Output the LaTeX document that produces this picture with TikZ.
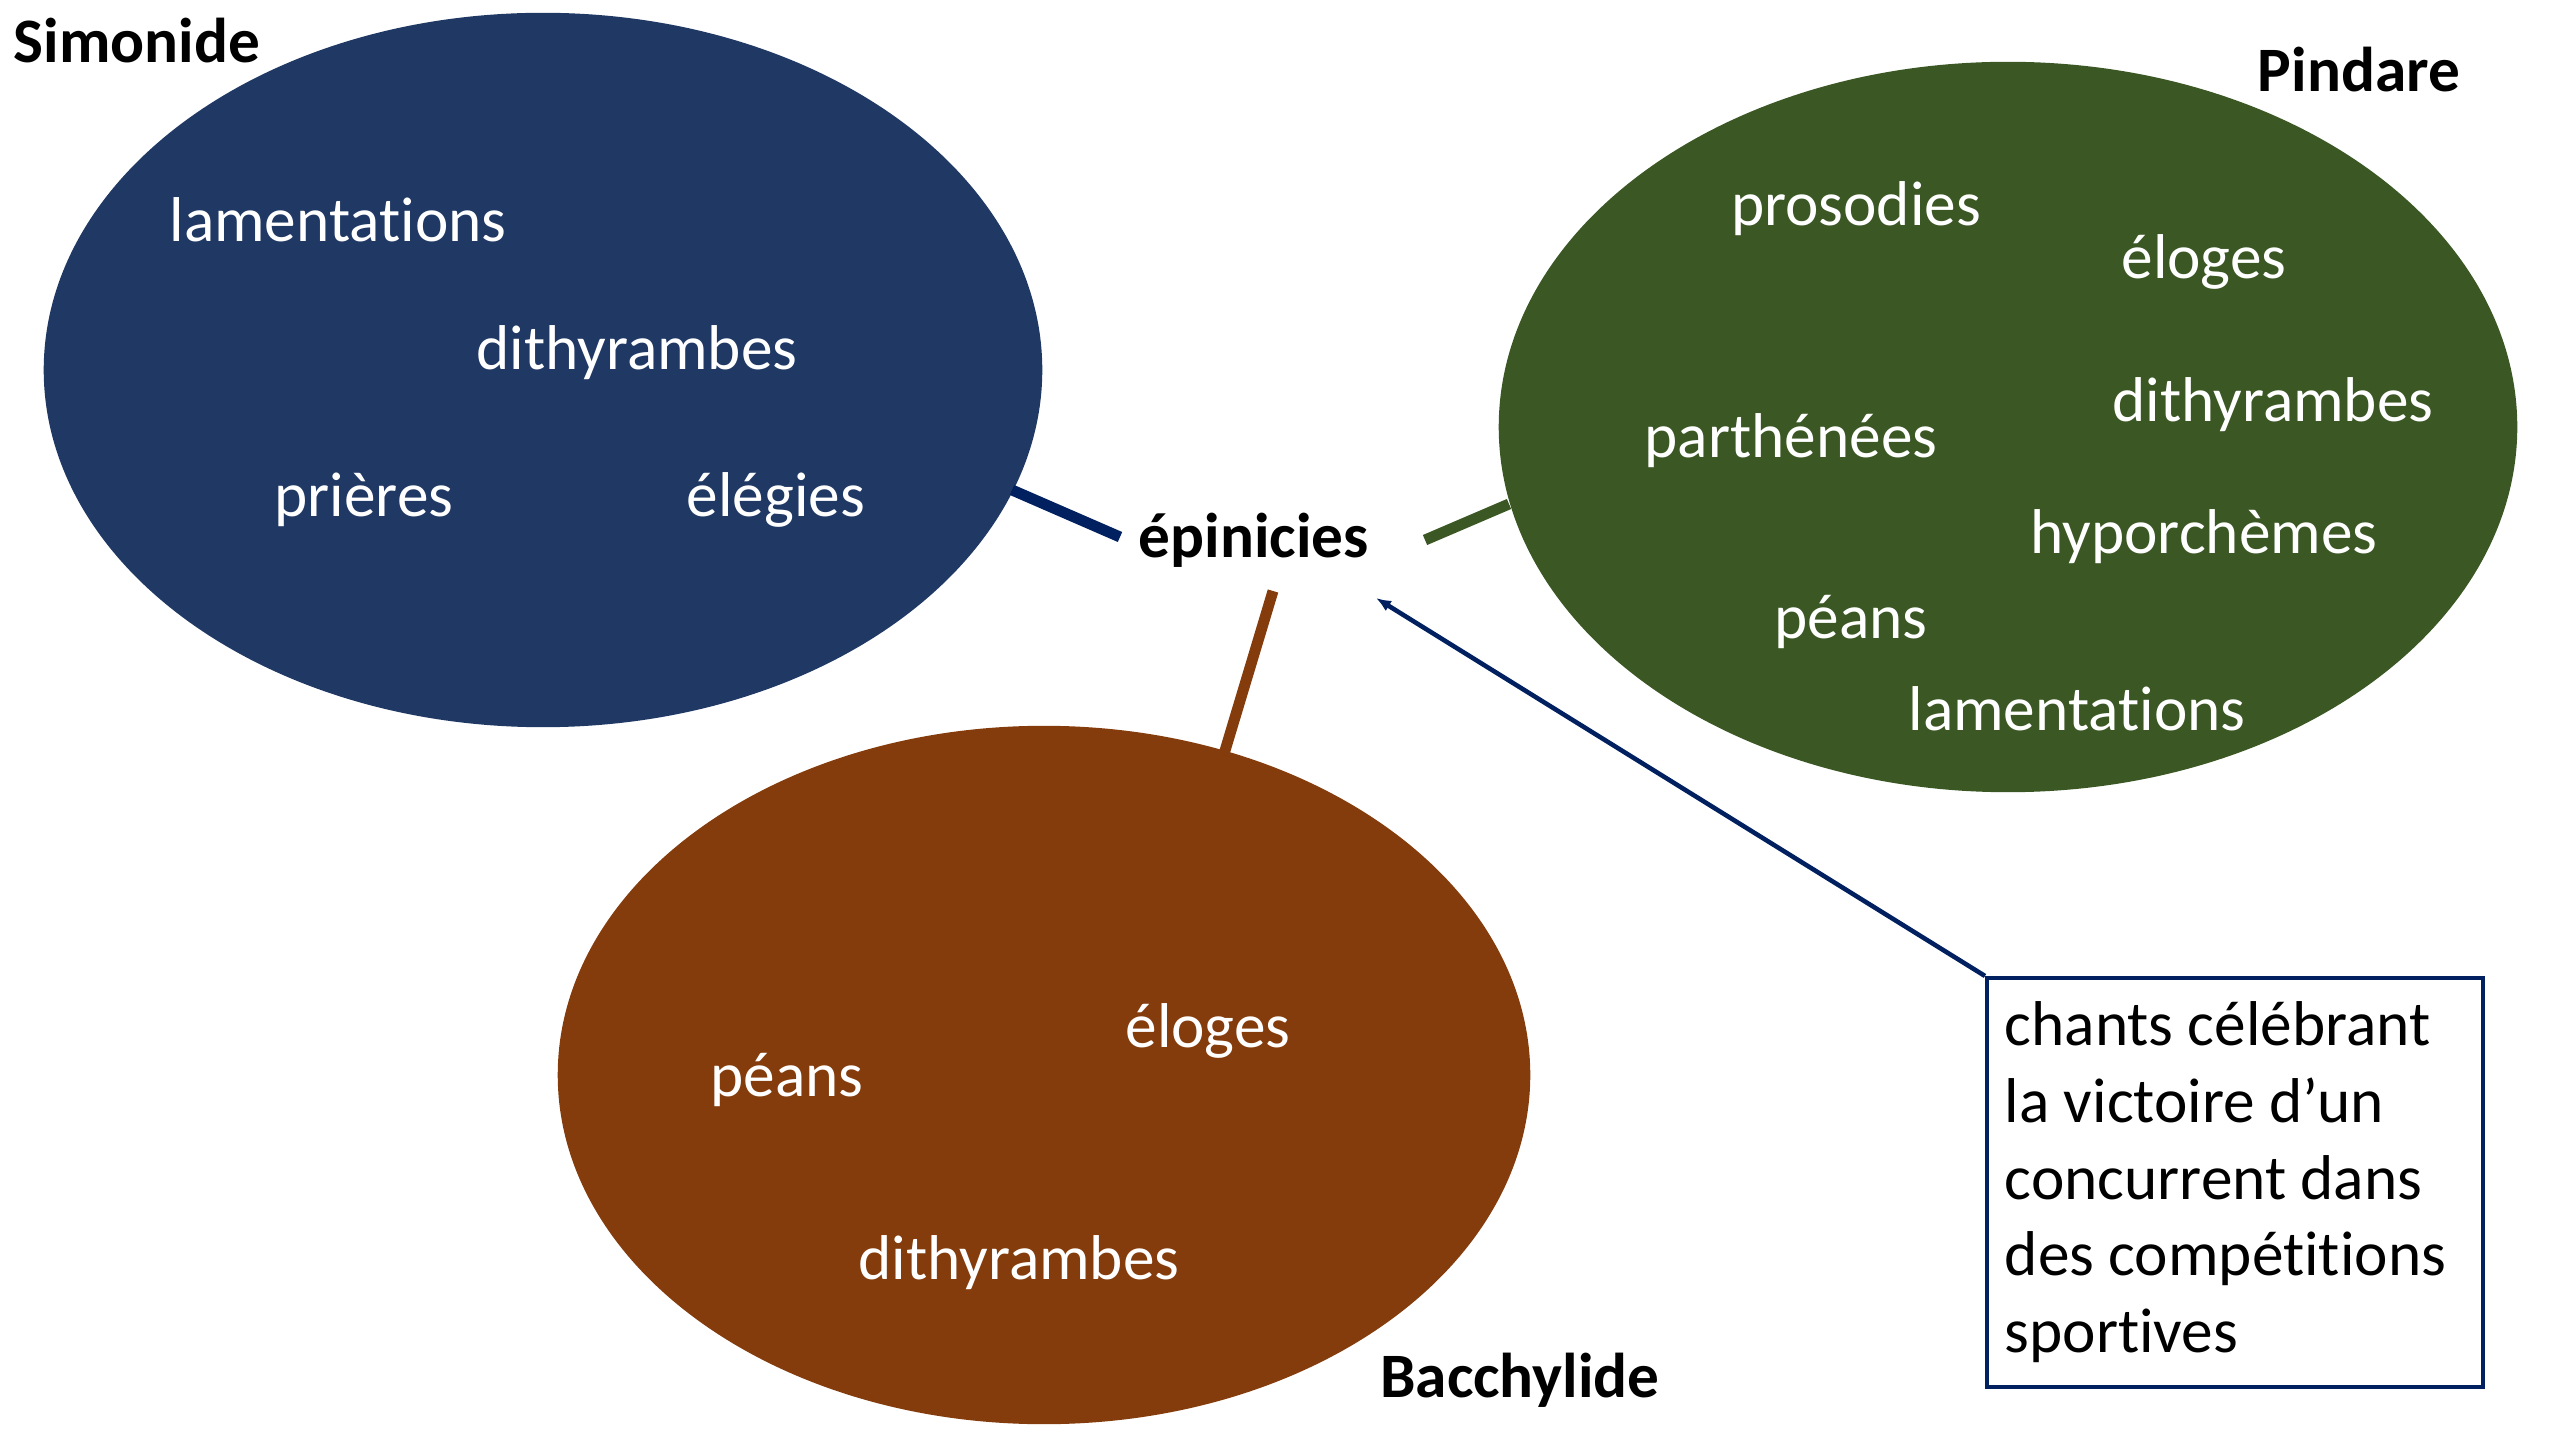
\documentclass[tikz,border=0pt]{standalone}
\usepackage{fontspec}
\setmainfont{Carlito}[Ligatures=CommonOff]
\usetikzlibrary{shapes.geometric,arrows.meta}
\definecolor{blueE}{HTML}{203864}
\definecolor{navy}{HTML}{002060}
\definecolor{greenE}{HTML}{3A5724}
\definecolor{brownE}{HTML}{843C0C}
\tikzset{
  blob/.style={ellipse,inner sep=0pt,draw=none},
  item/.style={text=white,font=\fontsize{18pt}{21.8pt}\selectfont,inner sep=0pt},
  poet/.style={text=black,font=\fontsize{18pt}{21.8pt}\selectfont\bfseries,inner sep=0pt},
  link/.style={line width=3.1pt},
  note/.style={draw=navy,line width=1pt,fill=white,align=flush left,text width=4.6cm,
    inner xsep=0.18cm,minimum width=4.95cm,minimum height=4.09cm,anchor=north west,
    font=\fontsize{18pt}{21.8pt}\selectfont}
}
\begin{document}
\begin{tikzpicture}[x=0.01cm,y=-0.01cm]
\useasboundingbox (0,0) rectangle (2560,1440);
% ellipses
\node[blob,fill=blueE,minimum width=9.98cm,minimum height=7.14cm] (simo) at (543,370) {};
\node[blob,fill=greenE,minimum width=10.18cm,minimum height=7.30cm] (pind) at (2008,427) {};
\node[blob,fill=brownE,minimum width=9.72cm,minimum height=6.98cm] (bacc) at (1044,1075) {};
% poets
\node[poet] (lsimo) at (137,41) {Simonide};
\node[poet] (lpind) at (2359,70) {Pindare};
\node[poet] (lbacc) at (1520,1380) {Bacchylide};
\node[poet] (epi) at (1254,540) {épinicies};
% Simonide items
\node[item] (s1) at (338,220) {lamentations};
\node[item] (s2) at (637,353) {dithyrambes};
\node[item] (s3) at (364,500) {prières};
\node[item] (s4) at (776,500) {élégies};
% Pindare items
\node[item] (p1) at (1856,209) {prosodies};
\node[item] (p2) at (2204,262) {éloges};
\node[item] (p3) at (1791,441) {parthénées};
\node[item] (p4) at (2273,405) {dithyrambes};
\node[item] (p5) at (2204,537) {hyporchèmes};
\node[item] (p6) at (1851,622) {péans};
\node[item] (p7) at (2077,709) {lamentations};
% Bacchylide items
\node[item] (b1) at (787,1080) {péans};
\node[item] (b2) at (1208,1031) {éloges};
\node[item] (b3) at (1019,1263) {dithyrambes};
% connectors
\coordinate (cs1) at (1012,490);
\coordinate (cs2) at (1120,537);
\coordinate (cp1) at (1425,540);
\coordinate (cp2) at (1509,504);
\coordinate (cb1) at (1273,591);
\coordinate (cb2) at (1224,754);
\draw[link,navy] (cs1) -- (cs2);
\draw[link,greenE] (cp1) -- (cp2);
\draw[link,brownE] (cb1) -- (cb2);
% note
\node[note] (box) at (1985,976) {chants célébrant\\la victoire d’un\\concurrent dans\\des compétitions\\sportives};
\coordinate (tip) at (1376,598);
\draw[navy,line width=1.3pt,-{Latex[length=0.15cm,width=0.12cm]}] (box.north west) -- (tip);
\end{tikzpicture}
\end{document}
